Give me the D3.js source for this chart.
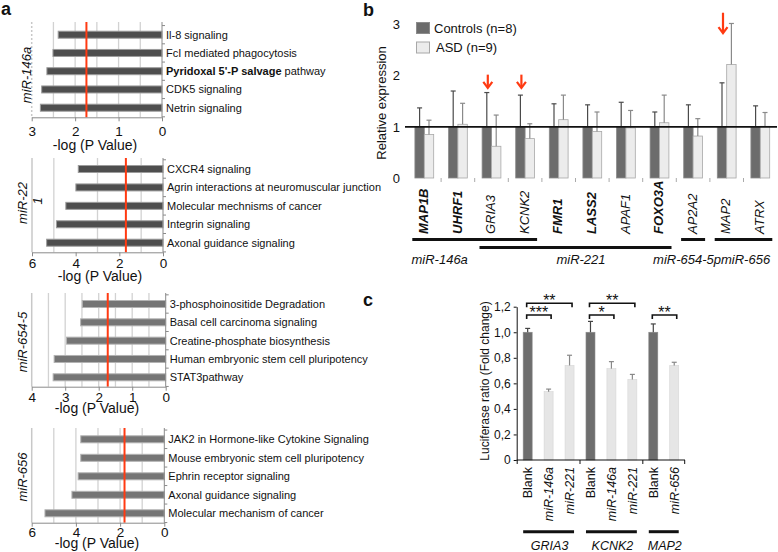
<!DOCTYPE html>
<html><head><meta charset="utf-8">
<script src="https://cdn.jsdelivr.net/npm/d3@7"></script>
<style>
body{margin:0;background:#fff}
svg{display:block}
text{font-family:"Liberation Sans",Arial,Helvetica,sans-serif;fill:#111}
</style>
</head><body>
<svg id="fig" width="778" height="552"></svg>
<script>
// ================= DATA =================
// Panel a : IPA pathways, -log(P value)
const mir146aPathways = ["Il-8 signaling","FcI mediated phagocytosis","Pyridoxal 5'-P salvage pathway","CDK5 signaling","Netrin signaling"];
const mir146aScores   = [2.39, 2.51, 2.65, 2.77, 2.80];
const mir221Pathways  = ["CXCR4 signaling","Agrin interactions at neuromuscular junction","Molecular mechnisms of cancer","Integrin signaling","Axonal guidance signaling"];
const mir221Scores    = [3.88, 3.99, 4.45, 4.88, 5.33];
const mir654Pathways  = ["3-phosphoinositide Degradation","Basal cell carcinoma signaling","Creatine-phosphate biosynthesis","Human embryonic stem cell pluripotency","STAT3pathway"];
const mir654Scores    = [2.49, 2.54, 2.96, 3.33, 3.36];
const mir656Pathways  = ["JAK2 in Hormone-like Cytokine Signaling","Mouse embryonic stem cell pluripotency","Ephrin receptor signaling","Axonal guidance signaling","Molecular mechanism of cancer"];
const mir656Scores    = [3.78, 3.78, 3.90, 4.18, 5.40];
const pathwayMirs       = ["miR-146a", "miR-22\n1", "miR-654-5", "miR-656"];
const pathwayThresholds = [1.74, 1.70, 1.73, 1.80];
const pathwayAxisMax    = [3, 6, 4, 6];
const pathwayTicks      = [[3,2,1,0],[6,4,2,0],[4,3,2,1,0],[6,4,2,0]];
const pathwayGrid       = [[0.5,1,1.5,2,2.5],[1,3,5],[0.5,1,1.5,2,2.5,3,3.5],[1,2,3,4,5]];
const boldPathwayPart   = "Pyridoxal 5'-P salvage";
const aAxisTitle = "-log (P Value)";

// Panel b : relative expression
const genes         = ["MAP1B","UHRF1","GRIA3","KCNK2","FMR1","LASS2","APAF1","FOXO3A","AP2A2","MAP2","ATRX"];
const controlMeans  = [1,1,1,1,1,1,1,1,1,1,1];
const controlUpper  = [1.37,1.70,1.67,1.62,1.45,1.43,1.48,1.29,1.43,1.86,1.41];
const asdMeans      = [0.85,1.05,0.62,0.77,1.14,0.91,0.98,1.08,0.82,2.22,1.01];
const asdUpper      = [1.13,1.46,1.23,1.06,1.62,1.29,1.32,1.62,1.16,3.02,1.28];
const boldGenes     = ["MAP1B","UHRF1","FMR1","LASS2","FOXO3A"];
const arrowGenes    = ["GRIA3","KCNK2","MAP2"];
const arrowTips     = [1.76, 1.76, 2.83];
const arrowTails    = [2.02, 2.02, 3.23];
const bTicks        = [0,1,2,3];
const seriesNames   = ["Controls (n=8)","ASD (n=9)"];
const mirGroups     = ["miR-146a","miR-221","miR-654-5p","miR-656"];
const mirGroupGenes = [["MAP1B","UHRF1","GRIA3","KCNK2"],["GRIA3","KCNK2","FMR1","LASS2","APAF1","FOXO3A"],["AP2A2"],["MAP2","ATRX"]];

// Panel c : luciferase
const lucTreatments = ["Blank","miR-146a","miR-221","Blank","miR-146a","miR-221","Blank","miR-656"];
const lucTargets    = ["GRIA3","GRIA3","GRIA3","KCNK2","KCNK2","KCNK2","MAP2","MAP2"];
const lucMeans      = [1.00,0.535,0.74,1.00,0.715,0.63,1.00,0.74];
const lucUpper      = [1.03,0.555,0.82,1.085,0.77,0.67,1.065,0.765];
const lucTicks      = [0,0.2,0.4,0.6,0.8,1.0,1.2];
const sigFrom  = [0,0,3,3,6];
const sigTo    = [2,1,5,4,7];
const sigLabel = ["**","***","**","*","**"];
const sigLevel = [2,1,2,1,1];

// ================= DRAW =================
const svg = d3.select("#fig");

// panel letters
const letters = svg.append("g").attr("font-size",18).attr("font-weight","bold");
letters.append("text").attr("x",1).attr("y",15).text("a");
letters.append("text").attr("x",363).attr("y",16).text("b");
letters.append("text").attr("x",363).attr("y",306).text("c");

// ---------- Panel a ----------
const aLayout = [
  {xL:31.7, x0:162,   r0:34.7,  r1:107.7, top:22,  base:117.3, tickY:19,   titleY:149.5, titleX:95,  labX:31, labY:75,  fill:"#4e4e4e", stroke:"#9c9c9c"},
  {xL:32,   x0:163,   r0:169,   r1:242.7, top:158, base:252.3, tickY:16,   titleY:280.5, titleX:100, labX:27, labY:203, fill:"#4e4e4e", stroke:"#9c9c9c"},
  {xL:31.7, x0:165.7, r0:304,   r1:377.3, top:293, base:386.7, tickY:15.5, titleY:413,   titleX:97,  labX:27, labY:342, fill:"#757575", stroke:"#b3b3b3"},
  {xL:31.7, x0:164.3, r0:439.3, r1:513.3, top:428, base:522.7, tickY:14,   titleY:547.5, titleX:97,  labX:27, labY:477, fill:"#757575", stroke:"#b3b3b3"}
];
const aSets = [[mir146aPathways,mir146aScores],[mir221Pathways,mir221Scores],[mir654Pathways,mir654Scores],[mir656Pathways,mir656Scores]];

aSets.forEach(([paths, scores], i) => {
  const L = aLayout[i];
  const g = svg.append("g");
  const x = d3.scaleLinear().domain([pathwayAxisMax[i], 0]).range([L.xL, L.x0]);
  const y = d3.scalePoint().domain(paths).range([L.r0, L.r1]);
  const step = y.step();

  // grid
  g.selectAll("line.grid").data(pathwayGrid[i]).join("line").attr("class","grid")
    .attr("x1",v=>x(v)).attr("x2",v=>x(v)).attr("y1",L.top).attr("y2",L.base)
    .attr("stroke","#d2d2d2").attr("stroke-width",1.3);
  g.append("line").attr("x1",x(pathwayAxisMax[i])).attr("x2",x(pathwayAxisMax[i]))
    .attr("y1",L.top).attr("y2",L.base).attr("stroke","#c8c8c8").attr("stroke-width",1.5)
    .attr("stroke-dasharray", i===0 ? "2,2" : null);

  // bars
  g.selectAll("rect.bar").data(scores).join("rect").attr("class","bar")
    .attr("x",v=>x(v)).attr("width",v=>x(0)-x(v))
    .attr("y",(v,j)=>y(paths[j])-3.5).attr("height",7)
    .attr("fill",L.fill).attr("stroke",L.stroke).attr("stroke-width",1);

  // right axis line with category ticks
  g.append("line").attr("x1",x(0)).attr("x2",x(0)).attr("y1",L.top).attr("y2",L.base)
    .attr("stroke","#8a8a8a").attr("stroke-width",1);
  g.selectAll("line.cat").data(d3.range(paths.length+1)).join("line").attr("class","cat")
    .attr("x1",x(0)).attr("x2",x(0)+3)
    .attr("y1",j=>L.r0 - step/2 + j*step).attr("y2",j=>L.r0 - step/2 + j*step)
    .attr("stroke","#8a8a8a");

  // threshold
  g.append("line").attr("x1",x(pathwayThresholds[i])).attr("x2",x(pathwayThresholds[i]))
    .attr("y1",L.top).attr("y2",L.base).attr("stroke","#ff3a12").attr("stroke-width",2);

  // bottom axis
  const ag = g.append("g").attr("transform",`translate(0,${L.base})`)
    .call(d3.axisBottom(x).tickValues(pathwayTicks[i]).tickSize(4).tickSizeOuter(0).tickFormat(d3.format("d")));
  ag.select(".domain").attr("stroke","#8a8a8a");
  ag.selectAll(".tick line").attr("stroke","#8a8a8a");
  ag.selectAll(".tick text").attr("font-size",13.5).attr("font-family",'"Liberation Sans",Arial,sans-serif')
    .attr("fill","#111").attr("dy",null).attr("y",L.tickY);

  g.append("text").attr("x",L.titleX).attr("y",L.titleY).attr("text-anchor","middle")
    .attr("font-size",14).text(aAxisTitle);

  // category labels
  const lab = g.selectAll("text.cat").data(paths).join("text").attr("class","cat")
    .attr("x",x(0)+4).attr("y",p=>y(p)).attr("dy","0.36em").attr("font-size",11);
  lab.each(function(p){
    const t = d3.select(this);
    if (p.startsWith(boldPathwayPart)) {
      t.append("tspan").attr("font-weight","bold").text(boldPathwayPart);
      t.append("tspan").text(p.slice(boldPathwayPart.length));
    } else t.text(p);
  });

  // rotated miR label
  pathwayMirs[i].split("\n").forEach((s,k)=>{
    g.append("text").attr("transform",`translate(${L.labX + k*15},${L.labY - k*2}) rotate(-90)`)
      .attr("text-anchor","middle").attr("font-size",13).attr("font-style","italic").text(s);
  });
});

// ---------- Panel b ----------
const xb = d3.scaleBand().domain(genes).range([407.5, 777.1]);
const xs = d3.scaleBand().domain(["ctrl","asd"]).range([0, xb.bandwidth()]).paddingOuter(0.787);
const yb = d3.scaleLinear().domain([0,3]).range([178, 24.5]);
const gb = svg.append("g");
const bw = xs.bandwidth();

const bRows = genes.map((g,i)=>({gene:g, c:controlMeans[i], cu:controlUpper[i], a:asdMeans[i], au:asdUpper[i]}));

// bars
gb.selectAll("rect.ctrl").data(bRows).join("rect").attr("class","ctrl")
  .attr("x",r=>xb(r.gene)+xs("ctrl")).attr("width",bw)
  .attr("y",r=>yb(r.c)).attr("height",r=>yb(0)-yb(r.c))
  .attr("fill","#6c6c6c").attr("stroke","#8c8c8c").attr("stroke-width",0.8);
gb.selectAll("rect.asd").data(bRows).join("rect").attr("class","asd")
  .attr("x",r=>xb(r.gene)+xs("asd")).attr("width",bw)
  .attr("y",r=>yb(r.a)).attr("height",r=>yb(0)-yb(r.a))
  .attr("fill","#ececec").attr("stroke","#a8a8a8").attr("stroke-width",0.8);

// whiskers
function whisk(g, cx, y0, y1, color){
  g.append("line").attr("x1",cx).attr("x2",cx).attr("y1",y0).attr("y2",y1).attr("stroke",color).attr("stroke-width",1.2);
  g.append("line").attr("x1",cx-2.5).attr("x2",cx+2.5).attr("y1",y1).attr("y2",y1).attr("stroke",color).attr("stroke-width",1.2);
}
bRows.forEach(r=>{
  whisk(gb, xb(r.gene)+xs("ctrl")+bw/2, yb(r.c), yb(r.cu), "#4a4a4a");
  whisk(gb, xb(r.gene)+xs("asd")+bw/2, yb(r.a), yb(r.au), "#8a8a8a");
});

// reference line at 1
gb.append("line").attr("x1",405).attr("x2",777).attr("y1",yb(1)).attr("y2",yb(1))
  .attr("stroke","#111").attr("stroke-width",1.6);

// small ticks between groups
gb.selectAll("line.sep").data(genes.slice(1)).join("line").attr("class","sep")
  .attr("x1",g=>xb(g)).attr("x2",g=>xb(g)).attr("y1",yb(0)).attr("y2",yb(0)+4)
  .attr("stroke","#aaa");

// y tick labels
gb.selectAll("text.yt").data(bTicks).join("text").attr("class","yt")
  .attr("x",400).attr("y",v=>yb(v)).attr("dy","0.36em").attr("text-anchor","end")
  .attr("font-size",13).text(v=>v);
gb.append("text").attr("transform",`translate(386,103) rotate(-90)`).attr("text-anchor","middle")
  .attr("font-size",13).text("Relative expression");

// legend
const legCol = ["#6c6c6c","#ececec"], legStroke=["#8c8c8c","#a8a8a8"];
seriesNames.forEach((s,i)=>{
  gb.append("rect").attr("x",416.5).attr("y",22.5+i*19.5).attr("width",13).attr("height",11)
    .attr("fill",legCol[i]).attr("stroke",legStroke[i]);
  gb.append("text").attr("x",434 + i*2).attr("y",32.5+i*19.5).attr("font-size",13).text(s);
});

// arrows
arrowGenes.forEach((g,i)=>{
  const ax = xb(g)+xs("ctrl")+bw/2 + 1;
  const t = yb(arrowTips[i]), s = yb(arrowTails[i]);
  gb.append("line").attr("x1",ax).attr("x2",ax).attr("y1",s).attr("y2",t-1)
    .attr("stroke","#ff3a12").attr("stroke-width",2.2);
  gb.append("path").attr("d",`M${ax-4.5},${t-6}L${ax},${t}L${ax+4.5},${t-6}`)
    .attr("fill","none").attr("stroke","#ff3a12").attr("stroke-width",2.2);
});

// gene labels
gb.selectAll("text.gene").data(genes).join("text").attr("class","gene")
  .attr("transform",g=>`translate(${xb(g)+xb.bandwidth()/2 - 1},234) rotate(-90)`)
  .attr("dy","0.36em").attr("font-size",13).attr("font-style","italic")
  .attr("font-weight",g=>boldGenes.includes(g)?"bold":"normal").text(g=>g);

// miR groups
const mirLineY = [239.5, 247.5, 239.5, 239.5];
mirGroups.forEach((m,i)=>{
  const gs = mirGroupGenes[i];
  const x1 = xb(gs[0])+xb.bandwidth()/2 - 12;
  const x2 = xb(gs[gs.length-1])+xb.bandwidth()/2 + 12;
  gb.append("line").attr("x1",x1).attr("x2",x2).attr("y1",mirLineY[i]).attr("y2",mirLineY[i])
    .attr("stroke","#111").attr("stroke-width",3);
});
const mirLab = gb.append("g").attr("font-size",13).attr("font-style","italic");
mirLab.append("text").attr("x",411.5).attr("y",264).text(mirGroups[0]);
mirLab.append("text").attr("x",581).attr("y",264).attr("text-anchor","middle").text(mirGroups[1]);
mirLab.append("text").attr("x",721).attr("y",264).attr("text-anchor","end").text(mirGroups[2]);
mirLab.append("text").attr("x",721).attr("y",264).text(mirGroups[3]);

// ---------- Panel c ----------
const gc = svg.append("g");
const xc = d3.scaleBand().domain(d3.range(lucTreatments.length)).range([517.2, 684.7]);
const yc = d3.scaleLinear().domain([0,1.2]).range([460, 306.7]);
const cw = 9;
const cxOf = i => xc(i) + xc.bandwidth()/2;

gc.selectAll("rect.luc").data(lucMeans).join("rect").attr("class","luc")
  .attr("x",(v,i)=>cxOf(i)-cw/2).attr("width",cw)
  .attr("y",v=>yc(v)).attr("height",v=>yc(0)-yc(v))
  .attr("fill",(v,i)=>lucTreatments[i]==="Blank"?"#6e6e6e":"#e6e6e6")
  .attr("stroke",(v,i)=>lucTreatments[i]==="Blank"?"#8a8a8a":"#d6d6d6").attr("stroke-width",0.6);
lucMeans.forEach((v,i)=>{
  whisk(gc, cxOf(i), yc(v), yc(lucUpper[i]), lucTreatments[i]==="Blank"?"#444":"#888");
});

// axes
const ya = gc.append("g").attr("transform","translate(516.7,0)")
  .call(d3.axisLeft(yc).tickValues(lucTicks).tickSize(3).tickSizeOuter(0)
    .tickFormat(v=> v===0 ? "0" : d3.format(".1f")(v).replace(".",",")));
ya.select(".domain").attr("stroke","#111");
ya.selectAll(".tick line").attr("stroke","#111");
ya.selectAll(".tick text").attr("font-size",12).attr("fill","#111")
  .attr("font-family",'"Liberation Sans",Arial,sans-serif');
gc.append("line").attr("x1",516.7).attr("x2",685).attr("y1",yc(0)).attr("y2",yc(0)).attr("stroke","#111");
const bounds = [0,3,6].map(i=>xc(i)).concat([xc(7)+xc.bandwidth()]);
gc.selectAll("line.cb").data(bounds).join("line").attr("class","cb")
  .attr("x1",b=>b).attr("x2",b=>b).attr("y1",yc(0)).attr("y2",yc(0)+4).attr("stroke","#111");
gc.append("text").attr("transform","translate(489,381) rotate(-90)").attr("text-anchor","middle")
  .attr("font-size",12).text("Luciferase ratio (Fold change)");

// significance brackets
const levelY = {1:315, 2:303.3};
sigFrom.forEach((f,k)=>{
  const yy = levelY[sigLevel[k]];
  const x1 = cxOf(f)-1, x2 = cxOf(sigTo[k])+2.5;
  gc.append("path").attr("d",`M${x1},${yy+4}V${yy}H${x2}V${yy+4}`)
    .attr("fill","none").attr("stroke","#111").attr("stroke-width",1.6);
  gc.append("text").attr("x",(x1+x2)/2).attr("y",yy+3).attr("text-anchor","middle")
    .attr("font-size",16).text(sigLabel[k]);
});

// x labels
gc.selectAll("text.tr").data(lucTreatments).join("text").attr("class","tr")
  .attr("transform",(t,i)=>`translate(${cxOf(i)},467) rotate(-90)`)
  .attr("text-anchor","end").attr("dy","0.36em").attr("font-size",12.5)
  .attr("font-style",t=>t==="Blank"?"normal":"italic").text(t=>t);

// target groups
const targets = Array.from(new Set(lucTargets));
targets.forEach(t=>{
  const idx = lucTargets.map((v,i)=>v===t?i:-1).filter(i=>i>=0);
  const x1 = cxOf(idx[0])-cw/2, x2 = cxOf(idx[idx.length-1])+cw/2;
  gc.append("line").attr("x1",x1).attr("x2",x2).attr("y1",531.7).attr("y2",531.7)
    .attr("stroke","#111").attr("stroke-width",3);
  gc.append("text").attr("x",(x1+x2)/2+1).attr("y",550).attr("text-anchor","middle")
    .attr("font-size",12.5).attr("font-style","italic").text(t);
});
</script>
</body></html>
